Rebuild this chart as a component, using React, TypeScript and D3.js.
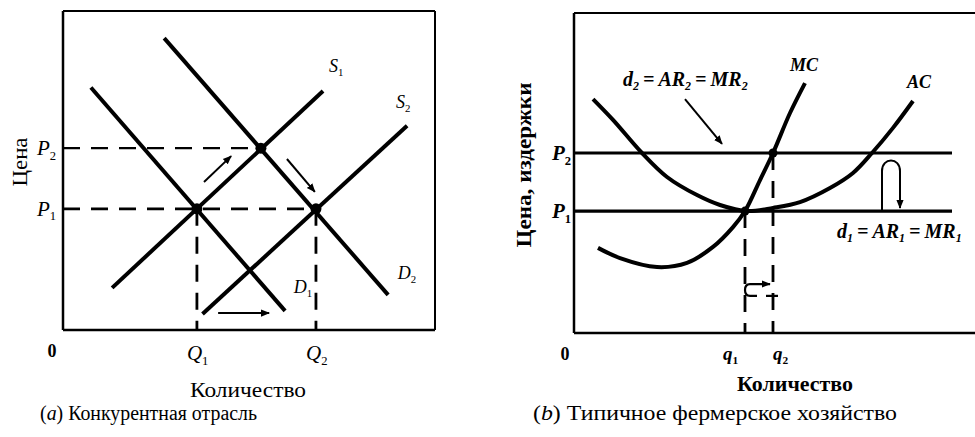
import React from 'react';
import * as d3 from 'd3';

// ---------- Panel (a): competitive industry ----------
const qLevelsA = [36, 68]; // Q1, Q2
const pLevelsA = [38, 57]; // P1, P2
const equilibriaA: [number, number][] = [[36, 38], [53.2, 57], [68, 38]];
const demandD1: [number, number][] = [[7.5, 76], [59.7, 6]];
const demandD2: [number, number][] = [[27.2, 91.5], [87.4, 11]];
const supplyS1: [number, number][] = [[13.2, 13.2], [69.9, 74.9]];
const supplyS2: [number, number][] = [[37.5, 5], [92.5, 64]];
const arrowsA: [number, number][][] = [
  [[37.9, 46.4], [45.2, 54.5]],
  [[60.2, 53.6], [67.7, 43.3]],
  [[41.7, 5.3], [55.4, 5.3]],
];
const curveLabelsA = [
  { main: 'S', sub: '1', x: 71.5, y: 81 },
  { main: 'S', sub: '2', x: 89.5, y: 69.5 },
  { main: 'D', sub: '1', x: 62, y: 11.5 },
  { main: 'D', sub: '2', x: 90, y: 16 },
];
const qTicksA = ['1', '2'];
const pTicksA = ['1', '2'];

// ---------- Panel (b): typical farm ----------
const qLevelsB = [42.75, 49.75]; // q1, q2
const pLevelsB = [38.1, 56.25]; // P1, P2
const priceLineEndB = 94.5;
const mcCurve: [number, number][] = [
  [6, 26.6], [11.5, 23.4], [20.75, 20.6], [28.25, 21.9], [34.75, 26.9],
  [39.75, 33.1], [42.75, 38.1], [46.5, 47.8], [49.75, 56.25], [54, 68.75], [57.75, 78.1],
];
const acCurve: [number, number][] = [
  [4.75, 73.1], [9.75, 66.6], [17, 56.25], [23.25, 48.75], [30.75, 43.1],
  [36.5, 40], [43.25, 38.1], [49.75, 39.1], [56.5, 40.9], [64, 45.3],
  [69.75, 50], [74.5, 56.25], [79.75, 64.1], [84.75, 72.5],
];
const pointerB: [number, number][] = [[27.75, 73.1], [37, 59.1]];
const loopArrowB = { left: 77, right: 81.5, top: 54.7 };
const hookB = { left: 42.75, right: 49, top: 15.3, bottom: 11.6 };

const FONT = '"Liberation Serif", "Times New Roman", serif';

// Scales
const xA = d3.scaleLinear().domain([0, 100]).range([63, 435]);
const yA = d3.scaleLinear().domain([0, 100]).range([330, 11]);
const xB = d3.scaleLinear().domain([0, 100]).range([574, 974]);
const yB = d3.scaleLinear().domain([0, 100]).range([333, 13]);

function Sub({ x, y, main, sub, size, anchor = 'start', weight = 'normal' }: any) {
  return (
    <text x={x} y={y} fontFamily={FONT} fontStyle="italic" fontSize={size} fontWeight={weight} textAnchor={anchor}>
      {main}
      <tspan fontSize={size * 0.6} fontStyle="normal" dy={size * 0.22}>{sub}</tspan>
    </text>
  );
}

function Equation({ x, y, n, size, len }: any) {
  const s = size * 0.6;
  const d = size * 0.22;
  return (
    <text x={x} y={y} fontFamily={FONT} fontStyle="italic" fontWeight="bold" fontSize={size}>
      d<tspan fontSize={s} dy={d}>{n}</tspan>
      <tspan dy={-d}>{'\u2009=\u2009AR'}</tspan>
      <tspan fontSize={s} dy={d}>{n}</tspan>
      <tspan dy={-d}>{'\u2009=\u2009MR'}</tspan>
      <tspan fontSize={s} dy={d}>{n}</tspan>
    </text>
  );
}

export default function App() {
  const lineA = d3.line<[number, number]>().x(d => xA(d[0])).y(d => yA(d[1]));
  const lineB = d3.line<[number, number]>().x(d => xB(d[0])).y(d => yB(d[1]));
  const smoothB = d3.line<[number, number]>().x(d => xB(d[0])).y(d => yB(d[1])).curve(d3.curveCatmullRom.alpha(0.5));

  const dash = '17 11';

  // loop arrow path
  const lp = d3.path();
  const lx0 = xB(loopArrowB.left), lx1 = xB(loopArrowB.right);
  const r = (lx1 - lx0) / 2;
  const topY = yB(loopArrowB.top);
  lp.moveTo(lx0, yB(pLevelsB[0]));
  lp.lineTo(lx0, topY + r + 4);
  lp.bezierCurveTo(lx0, topY - 1, lx1, topY - 1, lx1, topY + r + 4);
  lp.lineTo(lx1, yB(pLevelsB[0]) - 3);

  // hook arrow path
  const hp = d3.path();
  const hx0 = xB(hookB.left), hx1 = xB(hookB.right);
  const hyT = yB(hookB.top), hyB = yB(hookB.bottom);
  hp.moveTo(hx0 + 12, hyB);
  hp.lineTo(hx0 + 5, hyB);
  hp.quadraticCurveTo(hx0, hyB, hx0, (hyT + hyB) / 2);
  hp.quadraticCurveTo(hx0, hyT, hx0 + 5, hyT);
  hp.lineTo(hx1, hyT);

  return (
    <svg width={975} height={437} style={{ position: 'absolute', left: 0, top: 0, background: '#fff' }}>
      <defs>
        <marker id="ah" viewBox="0 0 10 10" refX="9" refY="5" markerWidth="9" markerHeight="9" markerUnits="userSpaceOnUse" orient="auto">
          <path d="M0,1 L10,5 L0,9 z" fill="#000" />
        </marker>
      </defs>

      {/* ---------------- Panel (a) ---------------- */}
      <g stroke="#000" fill="none">
        <line x1={xA(0)} y1={yA(100)} x2={xA(100)} y2={yA(100)} strokeWidth={2} />
        <line x1={xA(100)} y1={yA(100)} x2={xA(100)} y2={yA(0)} strokeWidth={2} />
        <line x1={xA(0)} y1={yA(0)} x2={xA(100)} y2={yA(0)} strokeWidth={2.5} />
        <line x1={xA(0)} y1={yA(0)} x2={xA(0)} y2={yA(100)} strokeWidth={2.5} />
        {/* dashed guides */}
        <line x1={xA(0)} y1={yA(pLevelsA[1])} x2={xA(equilibriaA[1][0])} y2={yA(pLevelsA[1])} strokeWidth={2.2} strokeDasharray={dash} />
        <line x1={xA(0)} y1={yA(pLevelsA[0])} x2={xA(qLevelsA[1])} y2={yA(pLevelsA[0])} strokeWidth={2.8} strokeDasharray={dash} />
        {qLevelsA.map((q, i) => (
          <line key={i} x1={xA(q)} y1={yA(pLevelsA[0])} x2={xA(q)} y2={yA(0)} strokeWidth={2.8} strokeDasharray={dash} />
        ))}
        {[demandD1, demandD2, supplyS1, supplyS2].map((d, i) => (
          <path key={i} d={lineA(d) || ''} strokeWidth={4} />
        ))}
        {arrowsA.map((a, i) => (
          <path key={i} d={lineA(a) || ''} strokeWidth={2} markerEnd="url(#ah)" />
        ))}
      </g>
      {equilibriaA.map((e, i) => (
        <circle key={i} cx={xA(e[0])} cy={yA(e[1])} r={5.5} fill="#000" />
      ))}
      {curveLabelsA.map((l, i) => (
        <Sub key={i} x={xA(l.x)} y={yA(l.y)} main={l.main} sub={l.sub} size={18} />
      ))}
      {pLevelsA.map((p, i) => (
        <Sub key={i} x={xA(0) - 26} y={yA(p) + 7} main="P" sub={pTicksA[i]} size={21} />
      ))}
      {qLevelsA.map((q, i) => (
        <Sub key={i} x={xA(q) - 10} y={360} main="Q" sub={qTicksA[i]} size={21} />
      ))}
      <text x={xA(0) - 11} y={357} fontFamily={FONT} fontSize={18} fontWeight="bold" textAnchor="middle">0</text>
      <text x={248} y={397} fontFamily={FONT} fontSize={20} textAnchor="middle" textLength={116} lengthAdjust="spacingAndGlyphs">Количество</text>
      <text x={40} y={420} fontFamily={FONT} fontSize={20} textLength={217} lengthAdjust="spacingAndGlyphs">
        (<tspan fontStyle="italic">a</tspan>) Конкурентная отрасль
      </text>
      <text transform="translate(27,162) rotate(-90)" fontFamily={FONT} fontSize={20} textAnchor="middle" textLength={49} lengthAdjust="spacingAndGlyphs">Цена</text>

      {/* ---------------- Panel (b) ---------------- */}
      <g stroke="#000" fill="none">
        <line x1={xB(0)} y1={yB(100)} x2={975} y2={yB(100)} strokeWidth={2} />
        <line x1={xB(0)} y1={yB(0)} x2={975} y2={yB(0)} strokeWidth={2.5} />
        <line x1={xB(0)} y1={yB(0)} x2={xB(0)} y2={yB(100)} strokeWidth={2.5} />
        {pLevelsB.map((p, i) => (
          <line key={i} x1={xB(0)} y1={yB(p)} x2={xB(priceLineEndB)} y2={yB(p)} strokeWidth={3.2} />
        ))}
        <line x1={xB(qLevelsB[0])} y1={yB(pLevelsB[0])} x2={xB(qLevelsB[0])} y2={yB(0)} strokeWidth={2.8} strokeDasharray={dash} />
        <line x1={xB(qLevelsB[1])} y1={yB(pLevelsB[1])} x2={xB(qLevelsB[1])} y2={yB(0)} strokeWidth={2.8} strokeDasharray={dash} />
        <path d={smoothB(mcCurve) || ''} strokeWidth={4} />
        <path d={smoothB(acCurve) || ''} strokeWidth={4} />
        <path d={lineB(pointerB) || ''} strokeWidth={2} markerEnd="url(#ah)" />
        <path d={lp.toString()} strokeWidth={2} markerEnd="url(#ah)" />
        <path d={hp.toString()} strokeWidth={2.2} markerEnd="url(#ah)" />
        <line x1={xB(qLevelsB[1]) - 7} y1={hyB} x2={xB(qLevelsB[1]) + 5} y2={hyB} strokeWidth={2.2} />
      </g>
      <circle cx={xB(qLevelsB[0])} cy={yB(pLevelsB[0])} r={4.5} fill="#000" />
      <circle cx={xB(qLevelsB[1])} cy={yB(pLevelsB[1])} r={4.5} fill="#000" />
      <text x={xB(57.75) - 15} y={yB(83.75) + 6} fontFamily={FONT} fontStyle="italic" fontWeight="bold" fontSize={18}>MC</text>
      <text x={xB(86.75) - 14} y={yB(78.4) + 6} fontFamily={FONT} fontStyle="italic" fontWeight="bold" fontSize={18}>AC</text>
      <Equation x={623} y={86} n="2" size={20} />
      <Equation x={837} y={238} n="1" size={20} />
      {pLevelsB.map((p, i) => (
        <Sub key={i} x={xB(0) - 22} y={yB(p) + 7} main="P" sub={String(i + 1)} size={21} weight="bold" />
      ))}
      {qLevelsB.map((q, i) => (
        <Sub key={i} x={xB(q) - (i === 0 ? 22 : 0)} y={360} main="q" sub={String(i + 1)} size={19} weight="bold" />
      ))}
      <text x={xB(0) - 9} y={360} fontFamily={FONT} fontSize={18} fontWeight="bold" textAnchor="middle">0</text>
      <text x={795} y={391} fontFamily={FONT} fontSize={20} fontWeight="bold" textAnchor="middle" textLength={116} lengthAdjust="spacingAndGlyphs">Количество</text>
      <text x={533} y={420} fontFamily={FONT} fontSize={21} textLength={364} lengthAdjust="spacingAndGlyphs">
        (<tspan fontStyle="italic">b</tspan>) Типичное фермерское хозяйство
      </text>
      <text transform="translate(531,165) rotate(-90)" fontFamily={FONT} fontSize={20} fontWeight="bold" textAnchor="middle" textLength={165} lengthAdjust="spacingAndGlyphs">Цена, издержки</text>
    </svg>
  );
}
